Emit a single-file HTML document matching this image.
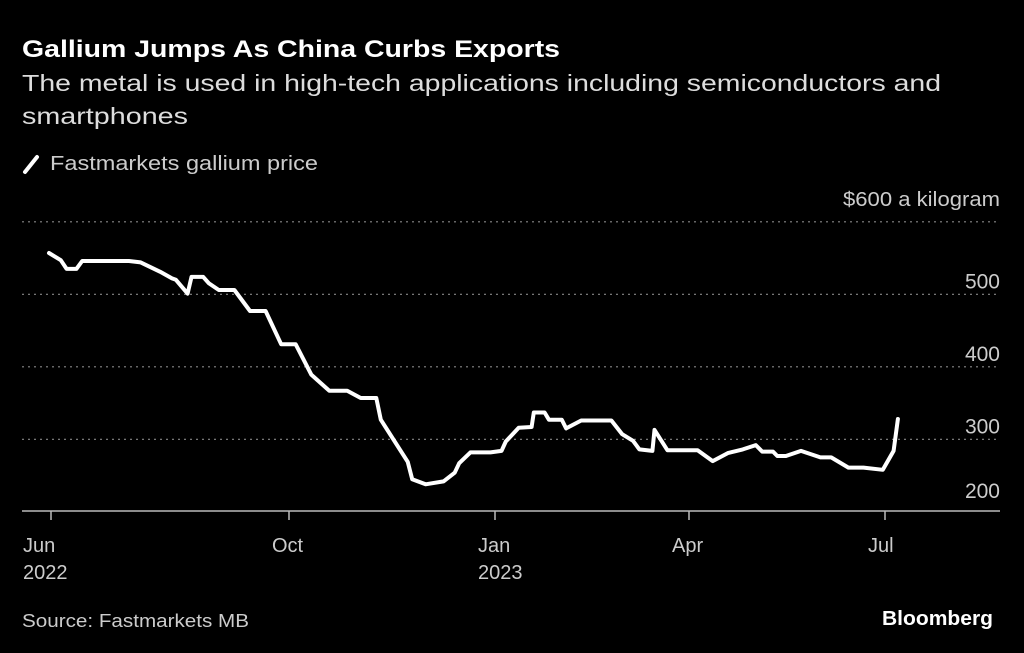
<!DOCTYPE html>
<html><head><meta charset="utf-8"><style>
body{margin:0;background:#000;width:1024px;height:653px;overflow:hidden;font-family:"Liberation Sans",sans-serif;color:#fff}
svg{position:absolute;left:0;top:0}
</style></head><body>
<svg width="1024" height="653">
<text x="22" y="57" font-size="24" font-weight="bold" fill="#fff" textLength="538" lengthAdjust="spacingAndGlyphs">Gallium Jumps As China Curbs Exports</text>
<text x="22" y="91" font-size="23" fill="#ddd" textLength="919" lengthAdjust="spacingAndGlyphs">The metal is used in high-tech applications including semiconductors and</text>
<text x="22" y="124" font-size="23" fill="#ddd" textLength="166" lengthAdjust="spacingAndGlyphs">smartphones</text>
<line x1="25" y1="172" x2="37" y2="157" stroke="#fff" stroke-width="4" stroke-linecap="round"/>
<text x="50" y="170" font-size="20" fill="#ccc" textLength="268" lengthAdjust="spacingAndGlyphs">Fastmarkets gallium price</text>
<text x="1000" y="206" font-size="20" fill="#ccc" text-anchor="end" textLength="157" lengthAdjust="spacingAndGlyphs">$600 a kilogram</text>
<g id="grid"></g><g id="xaxis"></g><g id="series"></g>
<text x="22" y="627" font-size="18" fill="#ccc" textLength="227" lengthAdjust="spacingAndGlyphs">Source: Fastmarkets MB</text>
<text x="993" y="625" font-size="20" font-weight="bold" fill="#fff" text-anchor="end" textLength="111" lengthAdjust="spacingAndGlyphs">Bloomberg</text>
</svg>
<script>
const days=[-1,5,8,13,16,40,46,56,62,64,70,72,78,81,86,94,102,110,118,125,132,140,148,154,161,163,175,177,183,191,196,198,203,212,217,219,225,231,232,237,239,245,247,254,268,273,278,281,287,288,294,308,315,322,329,335,338,343,345,349,356,365,370,378,385,394,399,401];
const prices=[557,547,535,535,546,546,544,531,522,520,501,524,524,515,506,506,477,477,431,431,389,367,367,357,357,327,269,245,238,242,254,267,282,282,284,297,316,317,337,337,327,327,315,326,326,307,298,286,284,313,285,285,270,281,286,292,283,283,277,277,284,275,275,261,261,258,284,328];
const yTicks=[200,300,400,500,600];
const yTickLabels=["200","300","400","500",""];
const xTickDays=[0,122,214,304,395];
const xTickLabels=[["Jun","2022"],["Oct",""],["Jan","2023"],["Apr",""],["Jul",""]];
const xTickPx=[51,289,495,689,885];
const NS="http://www.w3.org/2000/svg";
function y(v){return 511.8-(v-200)*0.725;}
function x(d){let i=0;while(i<xTickDays.length-2&&d>xTickDays[i+1])i++;
 return xTickPx[i]+(d-xTickDays[i])*(xTickPx[i+1]-xTickPx[i])/(xTickDays[i+1]-xTickDays[i]);}
function mk(t,a,p){const e=document.createElementNS(NS,t);for(const k in a)e.setAttribute(k,a[k]);p.appendChild(e);return e;}
const grid=document.getElementById('grid');
yTicks.forEach((v,i)=>{
 if(v>200){const l=mk('line',{x1:22,x2:1000,y1:y(v),y2:y(v),stroke:'#888','stroke-width':1.2,'stroke-dasharray':'2 4'},grid);
 
 }
 if(yTickLabels[i]){const t=mk('text',{x:1000,y:y(v)+(v===200?-14:-6),'font-size':21,fill:'#ccc','text-anchor':'end'},grid);t.textContent=yTickLabels[i];
 
 }
});
const xa=document.getElementById('xaxis');
const base=mk('line',{x1:22,x2:1000,y1:511,y2:511,stroke:'#bbb','stroke-width':1.5},xa);


xTickDays.forEach((d,i)=>{
 const l=mk('line',{x1:x(d),x2:x(d),y1:511,y2:520,stroke:'#bbb','stroke-width':1.5},xa);
 
 
 xTickLabels[i].forEach((s,j)=>{if(!s)return;
  const t=mk('text',{x:x(d)-(i==0?28:17),y:552+j*27,'font-size':20,fill:'#ccc'},xa);t.textContent=s;
  
  });
});
const pts=days.map((d,i)=>x(d).toFixed(1)+','+y(prices[i]).toFixed(1)).join(' ');
const pl=mk('polyline',{points:pts,fill:'none',stroke:'#fff','stroke-width':4,'stroke-linejoin':'round','stroke-linecap':'round'},document.getElementById('series'));


</script>
</body></html>
